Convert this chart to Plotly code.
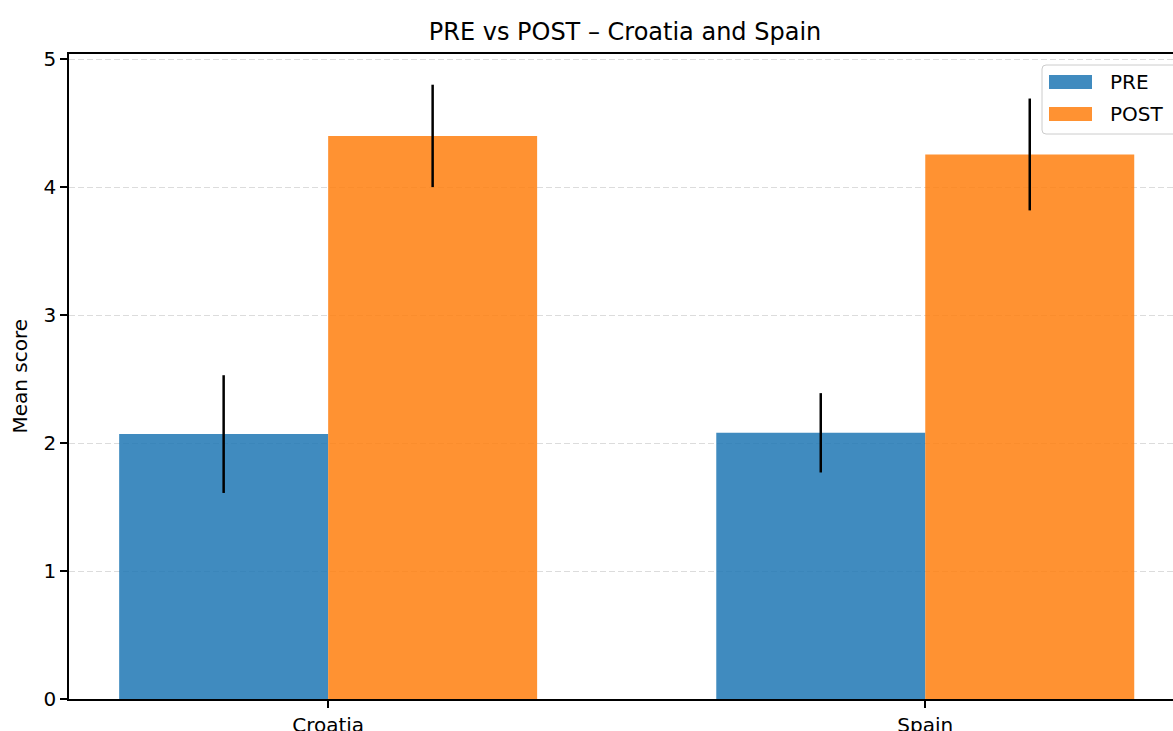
import plotly.graph_objects as go

# Data
countries = ["Croatia", "Spain"]
pre_mean = [2.07, 2.08]
pre_err = [0.46, 0.31]
post_mean = [4.40, 4.255]
post_err = [0.40, 0.437]
y_ticks = [0, 1, 2, 3, 4, 5]

W, H = 1173, 731
ML, MR, MT, MB = 69, 0, 54, 32
PW, PH = W - ML - MR, H - MT - MB

def px(xp):
    return (xp - ML) / PW

def py(yp):
    return (H - MB - yp) / PH

BLUE = "rgba(31,119,180,0.85)"
ORANGE = "rgba(255,127,14,0.85)"
FONT = "DejaVu Sans"

fig = go.Figure()
fig.add_trace(go.Bar(
    name="PRE", x=countries, y=pre_mean,
    marker=dict(color=BLUE, line=dict(width=0)),
    error_y=dict(type="data", array=pre_err, color="black", thickness=2.5, width=0),
))
fig.add_trace(go.Bar(
    name="POST", x=countries, y=post_mean,
    marker=dict(color=ORANGE, line=dict(width=0)),
    error_y=dict(type="data", array=post_err, color="black", thickness=2.5, width=0),
))

# Legend box with rounded corners, drawn in pixel space
lx0, lx1, ly0, ly1, r = 1042, 1185, 65, 134, 4
path = (
    f"M {px(lx0 + r)},{py(ly0)} L {px(lx1)},{py(ly0)} L {px(lx1)},{py(ly1)} "
    f"L {px(lx0 + r)},{py(ly1)} Q {px(lx0)},{py(ly1)} {px(lx0)},{py(ly1 - r)} "
    f"L {px(lx0)},{py(ly0 + r)} Q {px(lx0)},{py(ly0)} {px(lx0 + r)},{py(ly0)} Z"
)
shapes = [dict(type="path", xref="paper", yref="paper", path=path,
               fillcolor="rgba(255,255,255,0.8)", line=dict(color="#cccccc", width=1),
               layer="above")]
annotations = []
for i, (name, col) in enumerate([("PRE", BLUE), ("POST", ORANGE)]):
    yc = 82 + i * 32
    shapes.append(dict(type="rect", xref="paper", yref="paper",
                       x0=px(1049), x1=px(1092), y0=py(yc - 7), y1=py(yc + 7),
                       fillcolor=col, line=dict(width=0), layer="above"))
    annotations.append(dict(text=name, xref="paper", yref="paper", x=px(1108), y=py(yc),
                            xanchor="left", yanchor="middle", showarrow=False,
                            font=dict(family=FONT, size=20, color="black")))

annotations.append(dict(text="Mean score", xref="paper", yref="paper",
                        x=px(19), y=0.5, xanchor="center", yanchor="middle",
                        textangle=-90, showarrow=False,
                        font=dict(family=FONT, size=20, color="black")))

fig.update_layout(
    width=W, height=H,
    margin=dict(l=ML, r=MR, t=MT, b=MB, pad=0, autoexpand=False),
    paper_bgcolor="white", plot_bgcolor="white",
    barmode="group", bargap=0.3, bargroupgap=0,
    showlegend=False,
    font=dict(family=FONT, size=20, color="black"),
    title=dict(text="PRE vs POST – Croatia and Spain", x=625 / W, xanchor="center",
               xref="container", y=1 - 32 / H, yref="container", yanchor="middle",
               font=dict(family=FONT, size=24, color="black")),
    shapes=shapes,
    annotations=annotations,
)
fig.update_xaxes(
    range=[-0.434, (W - 328.3) / 597], showgrid=False, automargin=False,
    showline=True, linecolor="black", linewidth=1.6, mirror=True,
    ticks="outside", ticklen=7, tickwidth=1.6, tickcolor="black",
    tickfont=dict(family=FONT, size=20, color="black"), zeroline=False,
)
fig.update_yaxes(
    range=[0, 5.04], tickvals=y_ticks, showgrid=True, automargin=False,
    gridcolor="#dcdcdc", gridwidth=1, griddash="6px,3px",
    showline=True, linecolor="black", linewidth=1.6, mirror=False,
    ticks="outside", ticklen=7, tickwidth=1.6, tickcolor="black",
    tickfont=dict(family=FONT, size=20, color="black"), zeroline=False,
)

fig.write_html("out.html")
